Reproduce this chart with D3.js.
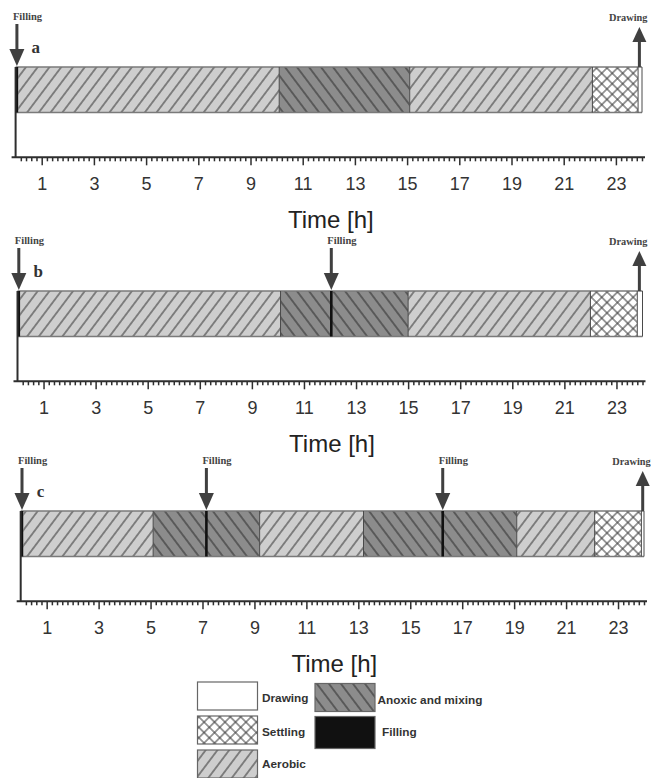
<!DOCTYPE html>
<html>
<head>
<meta charset="utf-8">
<script src="https://cdn.jsdelivr.net/npm/d3@7"></script>
<style>
  body { margin: 0; background: #fff; }
  svg { display: block; }
</style>
</head>
<body>
<svg id="chart" width="651" height="778"></svg>
<script>
// Phase schedules (hours) for the three operating strategies
const segmentsA = [
  ["Aerobic", 0.1, 10.1],
  ["Anoxic and mixing", 10.1, 15.1],
  ["Aerobic", 15.1, 22.1],
  ["Settling", 22.1, 23.85],
  ["Drawing", 23.85, 24]
];
const segmentsB = [
  ["Aerobic", 0.1, 10.1],
  ["Anoxic and mixing", 10.1, 15.0],
  ["Aerobic", 15.0, 22.0],
  ["Settling", 22.0, 23.8],
  ["Drawing", 23.8, 24]
];
const segmentsC = [
  ["Aerobic", 0.1, 5.1],
  ["Anoxic and mixing", 5.1, 9.2],
  ["Aerobic", 9.2, 13.2],
  ["Anoxic and mixing", 13.2, 19.1],
  ["Aerobic", 19.1, 22.1],
  ["Settling", 22.1, 23.9],
  ["Drawing", 23.9, 24]
];
// Filling pulses (start, end in hours)
const fillingA = [[0, 0.1]];
const fillingB = [[0, 0.1], [12.0, 12.1]];
const fillingC = [[0, 0.1], [7.1, 7.2], [16.2, 16.3]];
// Drawing instant
const drawingTime = [23.9, 23.88, 23.95];

const tickLabels = [1, 3, 5, 7, 9, 11, 13, 15, 17, 19, 21, 23];
const axisTitle = "Time [h]";
const legendItems = ["Drawing", "Settling", "Aerobic", "Anoxic and mixing", "Filling"];

// Layout
const panels = [
  { label: "a", segments: segmentsA, fillings: fillingA, drawAt: drawingTime[0], top: 0,   r0: 15.6, r1: 642 },
  { label: "b", segments: segmentsB, fillings: fillingB, drawAt: drawingTime[1], top: 224, r0: 17.5, r1: 642.5 },
  { label: "c", segments: segmentsC, fillings: fillingC, drawAt: drawingTime[2], top: 444, r0: 20.7, r1: 644 }
];

const svg = d3.select("#chart");
const defs = svg.append("defs");

function hatch(id, bg, angle, spacing, stroke, sw) {
  const p = defs.append("pattern")
    .attr("id", id)
    .attr("patternUnits", "userSpaceOnUse")
    .attr("width", spacing).attr("height", spacing)
    .attr("patternTransform", `rotate(${angle})`);
  p.append("rect").attr("width", spacing).attr("height", spacing).attr("fill", bg);
  p.append("line")
    .attr("x1", spacing / 2).attr("x2", spacing / 2)
    .attr("y1", -1).attr("y2", spacing + 1)
    .attr("stroke", stroke).attr("stroke-width", sw);
}
hatch("pat-aerobic", "#cecece", 37, 9.4, "#3a3a3a", 1.05);
hatch("pat-anoxic", "#8c8c8c", -37, 9.6, "#2e2e2e", 1.05);

// cross hatch for settling
(function () {
  const s = 7.4;
  const p = defs.append("pattern")
    .attr("id", "pat-settling")
    .attr("patternUnits", "userSpaceOnUse")
    .attr("width", s).attr("height", s)
    .attr("patternTransform", "rotate(45)");
  p.append("rect").attr("width", s).attr("height", s).attr("fill", "#ffffff");
  p.append("line").attr("x1", s / 2).attr("x2", s / 2).attr("y1", -1).attr("y2", s + 1)
    .attr("stroke", "#3a3a3a").attr("stroke-width", 1);
  p.append("line").attr("y1", s / 2).attr("y2", s / 2).attr("x1", -1).attr("x2", s + 1)
    .attr("stroke", "#3a3a3a").attr("stroke-width", 1);
})();

const phaseFill = {
  "Drawing": "#ffffff",
  "Settling": "url(#pat-settling)",
  "Aerobic": "url(#pat-aerobic)",
  "Anoxic and mixing": "url(#pat-anoxic)",
  "Filling": "#111111"
};

const arrowColor = "#404040";

function downArrow(g, x, yTop, yTip) {
  const headH = 17, headW = 15;
  g.append("rect").attr("x", x - 1.5).attr("y", yTop).attr("width", 3).attr("height", yTip - headH - yTop + 1)
    .attr("fill", arrowColor);
  g.append("path")
    .attr("d", `M${x - headW / 2},${yTip - headH} L${x + headW / 2},${yTip - headH} L${x},${yTip} Z`)
    .attr("fill", arrowColor);
}
function upArrow(g, x, yTip, yBottom) {
  const headH = 15, headW = 14;
  g.append("rect").attr("x", x - 1.5).attr("y", yTip + headH - 1).attr("width", 3).attr("height", yBottom - yTip - headH + 1)
    .attr("fill", arrowColor);
  g.append("path")
    .attr("d", `M${x - headW / 2},${yTip + headH} L${x + headW / 2},${yTip + headH} L${x},${yTip} Z`)
    .attr("fill", arrowColor);
}

panels.forEach(p => {
  const g = svg.append("g").attr("transform", `translate(0,${p.top})`);
  const x = d3.scaleLinear().domain([0, 24]).range([p.r0, p.r1]);
  const barTop = 67, barH = 45.5, axisY = 157.3;

  // phase blocks
  g.selectAll("rect.seg").data(p.segments).join("rect")
    .attr("class", "seg")
    .attr("x", d => x(d[1])).attr("y", barTop)
    .attr("width", d => x(d[2]) - x(d[1])).attr("height", barH)
    .attr("fill", d => phaseFill[d[0]]);

  // bar outline
  g.append("line").attr("x1", x(0)).attr("x2", x(24)).attr("y1", barTop).attr("y2", barTop)
    .attr("stroke", "#7a7a7a").attr("stroke-width", 1.3);
  g.append("line").attr("x1", x(0)).attr("x2", x(24)).attr("y1", barTop + barH).attr("y2", barTop + barH)
    .attr("stroke", "#7a7a7a").attr("stroke-width", 1.3);
  g.selectAll("line.div").data(p.segments).join("line")
    .attr("class", "div")
    .attr("x1", d => x(d[2])).attr("x2", d => x(d[2]))
    .attr("y1", barTop).attr("y2", barTop + barH)
    .attr("stroke", "#4a4a4a").attr("stroke-width", 1);

  // filling pulses
  g.selectAll("rect.fill").data(p.fillings).join("rect")
    .attr("class", "fill")
    .attr("x", d => x(d[0])).attr("y", barTop)
    .attr("width", d => Math.max(2.5, x(d[1]) - x(d[0]))).attr("height", barH)
    .attr("fill", phaseFill["Filling"]);

  // left axis line
  g.append("line").attr("x1", x(0)).attr("x2", x(0)).attr("y1", barTop).attr("y2", axisY)
    .attr("stroke", "#2e2e2e").attr("stroke-width", 2);

  // time axis: minor ticks every 0.2 h, major at odd hours
  const minor = d3.range(1, 121).map(i => i / 5).filter(v => !tickLabels.includes(v));
  const minorAxis = d3.axisBottom(x).tickValues(minor).tickSize(4).tickFormat("");
  const majorAxis = d3.axisBottom(x).tickValues(tickLabels).tickSize(8).tickPadding(12)
    .tickFormat(d3.format("d"));

  const ga1 = g.append("g").attr("transform", `translate(0,${axisY})`).call(minorAxis);
  const ga2 = g.append("g").attr("transform", `translate(0,${axisY})`).call(majorAxis);
  [ga1, ga2].forEach(a => {
    a.select(".domain").remove();
    a.selectAll(".tick line").attr("stroke", "#2e2e2e").attr("stroke-width", 1.5);
  });
  ga2.selectAll(".tick text")
    .attr("font-family", "'Liberation Sans', Arial, sans-serif")
    .attr("font-size", 18).attr("fill", "#333").attr("dy", null).attr("y", 32.5);
  g.append("line").attr("x1", x(0) - 4).attr("x2", x(24) + 3).attr("y1", axisY).attr("y2", axisY)
    .attr("stroke", "#2e2e2e").attr("stroke-width", 2);

  // axis title
  g.append("text").attr("x", (x(0) + x(24)) / 2 + 2).attr("y", 227.5)
    .attr("text-anchor", "middle")
    .attr("font-family", "'Liberation Sans', Arial, sans-serif")
    .attr("font-size", 24).attr("fill", "#222")
    .text(axisTitle);

  // panel letter
  g.append("text").attr("x", x(0) + 16).attr("y", 53)
    .attr("font-family", "'Liberation Serif', 'Times New Roman', serif")
    .attr("font-weight", "bold").attr("font-size", 17).attr("fill", "#333")
    .text(p.label);

  // filling arrows
  p.fillings.forEach(f => {
    const cx = x((f[0] + f[1]) / 2);
    downArrow(g, cx, 24, barTop - 1);
    g.append("text").attr("x", cx - 4).attr("y", 20)
      .attr("font-family", "'Liberation Serif', 'Times New Roman', serif")
      .attr("font-weight", "bold").attr("font-size", 10.5).attr("fill", "#444")
      .text("Filling");
  });

  // drawing arrow
  const dx = x(p.drawAt);
  upArrow(g, dx, 27, barTop);
  g.append("text").attr("x", dx + 8).attr("y", 21)
    .attr("text-anchor", "end")
    .attr("font-family", "'Liberation Serif', 'Times New Roman', serif")
    .attr("font-weight", "bold").attr("font-size", 10.3).attr("fill", "#444")
    .text("Drawing");
});

// legend
const legendPos = [
  { bx: 197.5, by: 682, lx: 262, ly: 702 },
  { bx: 197.5, by: 716, lx: 262, ly: 736 },
  { bx: 197.5, by: 750, lx: 262, ly: 768 },
  { bx: 315, by: 683.5, lx: 377.5, ly: 703.5 },
  { bx: 315, by: 716.5, lx: 382, ly: 736 }
];
const lg = svg.append("g");
legendItems.forEach((name, i) => {
  const pos = legendPos[i];
  lg.append("rect").attr("x", pos.bx).attr("y", pos.by).attr("width", 60).attr("height", i === 4 ? 32 : 28)
    .attr("fill", phaseFill[name]).attr("stroke", "#666").attr("stroke-width", 1.2);
  lg.append("text").attr("x", pos.lx).attr("y", pos.ly)
    .attr("font-family", "'Liberation Sans', Arial, sans-serif")
    .attr("font-weight", "bold").attr("font-size", 11.8).attr("fill", "#333")
    .text(name);
});
</script>
</body>
</html>
